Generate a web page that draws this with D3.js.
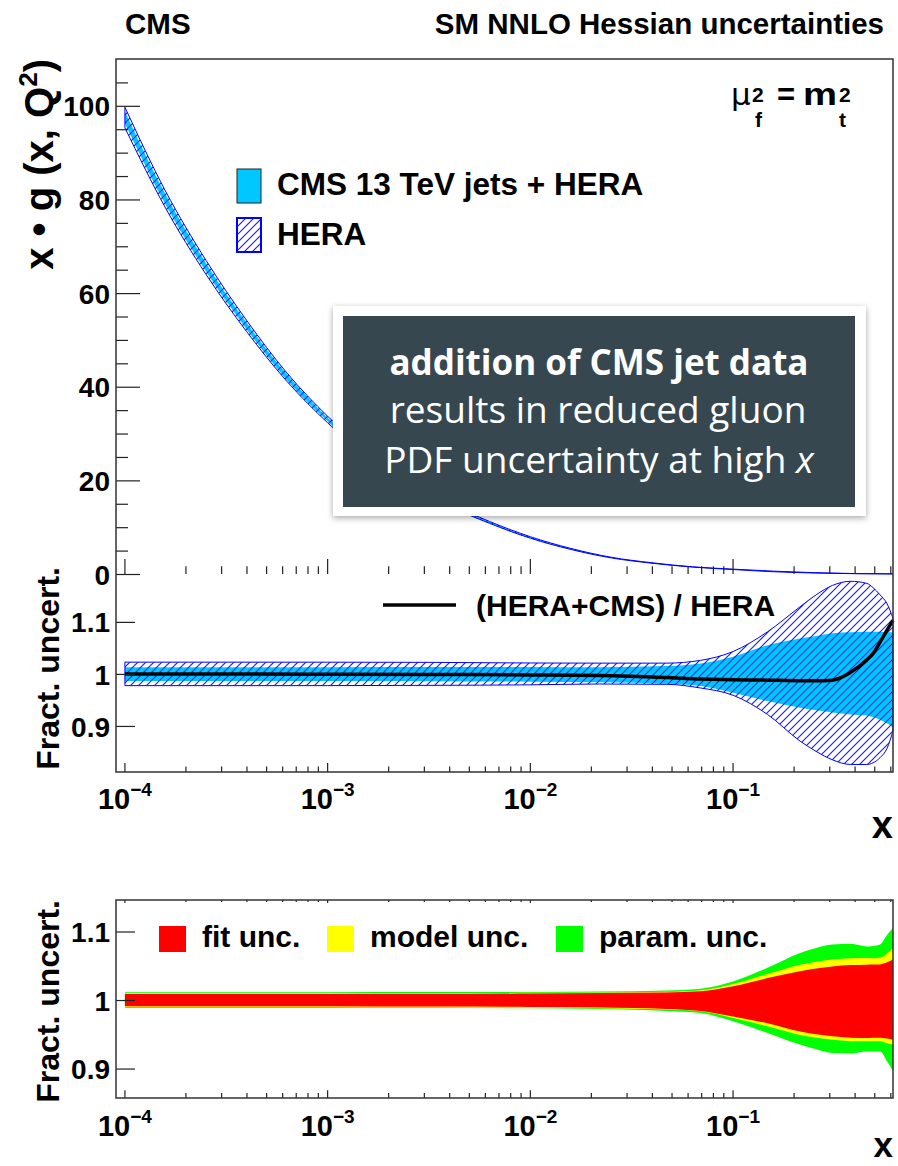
<!DOCTYPE html>
<html lang="en">
<head>
<meta charset="UTF-8">
<script src="https://d3js.org/d3.v7.min.js"></script>
<title>Gluon PDF uncertainties</title>
<style>
    body { margin: 0; background: #fff; }
    svg { display: block; font-family: "Liberation Sans", Arial, sans-serif; font-weight: bold; }
    .note text { font-family: "Open Sans", sans-serif; fill: #fff; }
</style>
</head>
<body>
<svg id="chart" width="898" height="1166"></svg>
<script>
// top panel: x*g(x,Q2) bands
const topX = [1e-4, 1.585e-4, 2.512e-4, 3.981e-4, 6.31e-4, 1e-3, 1.585e-3, 2.512e-3, 3.981e-3, 6.31e-3,
              0.01, 0.01585, 0.02512, 0.03981, 0.0631, 0.1, 0.1585, 0.2512, 0.3981, 0.615];
const heraGluonUp = [99.7, 81.8, 67.0, 54.2, 42.9, 33.7, 26.1, 19.9, 15.1, 11.2, 7.96, 5.46, 3.57, 2.40, 1.54, 1.04, 0.61, 0.29, 0.094, 0.022];
const heraGluonDn = [95.3, 78.2, 64.0, 51.8, 41.1, 32.3, 24.9, 19.1, 14.5, 10.8, 7.64, 5.24, 3.43, 2.30, 1.47, 0.96, 0.48, 0.21, 0.066, 0.018];
const cmsGluonUp  = [98.8, 81.1, 66.4, 53.7, 42.6, 33.4, 25.8, 19.8, 15.0, 11.1, 7.90, 5.42, 3.55, 2.38, 1.52, 1.03, 0.58, 0.27, 0.086, 0.022];
const cmsGluonDn  = [96.2, 78.9, 64.6, 52.3, 41.4, 32.6, 25.2, 19.2, 14.6, 10.85, 7.70, 5.28, 3.45, 2.32, 1.48, 0.97, 0.52, 0.23, 0.074, 0.018];

// ratio panels share one x grid
const ratioX = [1e-4, 3.16e-4, 1e-3, 3.16e-3, 0.01, 0.022, 0.047, 0.069, 0.1, 0.148, 0.214, 0.257, 0.309, 0.38, 0.457, 0.49, 0.531, 0.575, 0.615];
const heraUp = [1.0226, 1.0226, 1.0225, 1.0222, 1.021, 1.0207, 1.0207, 1.026, 1.043, 1.081, 1.129, 1.152, 1.170, 1.178, 1.174, 1.166, 1.152, 1.135, 1.107];
const heraDn = [0.9774, 0.9774, 0.9775, 0.978, 0.979, 0.9806, 0.980, 0.973, 0.959, 0.922, 0.871, 0.851, 0.835, 0.826, 0.826, 0.829, 0.839, 0.857, 0.89];
const cmsUp  = [1.013, 1.013, 1.013, 1.0132, 1.0135, 1.013, 1.015, 1.02, 1.033, 1.055, 1.068, 1.073, 1.078, 1.080, 1.081, 1.081, 1.081, 1.080, 1.080];
const cmsDn  = [0.9865, 0.9865, 0.9865, 0.986, 0.985, 0.984, 0.981, 0.977, 0.964, 0.948, 0.935, 0.930, 0.926, 0.922, 0.920, 0.917, 0.912, 0.905, 0.897];
const ratioLine = [1.0, 1.0, 0.9995, 0.999, 0.998, 0.997, 0.993, 0.990, 0.989, 0.988, 0.987, 0.987, 0.988, 1.003, 1.027, 1.039, 1.061, 1.084, 1.103];

const fitUp   = [1.0088, 1.0088, 1.0088, 1.009, 1.0095, 1.0102, 1.011, 1.0127, 1.020, 1.032, 1.042, 1.046, 1.049, 1.051, 1.0516, 1.052, 1.052, 1.055, 1.059];
const fitDn   = [0.991, 0.991, 0.991, 0.9905, 0.990, 0.989, 0.987, 0.984, 0.976, 0.966, 0.954, 0.950, 0.947, 0.945, 0.9445, 0.945, 0.945, 0.944, 0.942];
const modelUp = [1.010, 1.010, 1.010, 1.0102, 1.0105, 1.011, 1.012, 1.0143, 1.0234, 1.038, 1.0516, 1.056, 1.059, 1.061, 1.0613, 1.061, 1.062, 1.068, 1.076];
const modelDn = [0.9895, 0.9895, 0.9895, 0.989, 0.9885, 0.988, 0.986, 0.9835, 0.9737, 0.9616, 0.949, 0.945, 0.942, 0.940, 0.9397, 0.940, 0.940, 0.937, 0.935];
const paramUp = [1.0115, 1.0115, 1.0115, 1.0116, 1.0117, 1.0125, 1.014, 1.0165, 1.027, 1.047, 1.0686, 1.076, 1.081, 1.082, 1.078, 1.079, 1.081, 1.095, 1.105];
const paramDn = [0.9885, 0.9885, 0.9885, 0.9883, 0.988, 0.987, 0.984, 0.981, 0.969, 0.952, 0.935, 0.928, 0.9226, 0.922, 0.925, 0.925, 0.925, 0.9105, 0.896];

const decades = [1e-4, 1e-3, 1e-2, 1e-1];
const decadeExp = ["\u22124", "\u22123", "\u22122", "\u22121"];
const topYTicks = [0, 20, 40, 60, 80, 100];
const ratioYTicks = [0.9, 1, 1.1];

const svg = d3.select("#chart");
const L = 116, R = 893;

const x = d3.scaleLog().domain([Math.pow(10, -4.044), Math.pow(10, -0.211)]).range([L, R]);
const yTop = d3.scaleLinear().domain([0, 110]).range([574, 59]);
const yMid = d3.scaleLinear().domain([0.8115, 1.192]).range([772, 574]);
const yBot = d3.scaleLinear().domain([0.857, 1.146]).range([1098, 900]);

// hatch pattern
const defs = svg.append("defs");
defs.append("pattern")
    .attr("id", "hatch")
    .attr("patternUnits", "userSpaceOnUse")
    .attr("width", 8).attr("height", 8)
    .append("path")
    .attr("d", "M-1,1 l2,-2 M0,8 l8,-8 M7,9 l2,-2")
    .attr("stroke", "#1c1cff")
    .attr("stroke-width", 1.15);
const shadow = defs.append("filter").attr("id", "shadow")
    .attr("x", "-10%").attr("y", "-10%").attr("width", "120%").attr("height", "130%");
shadow.append("feDropShadow").attr("dx", 0).attr("dy", 2).attr("stdDeviation", 3)
    .attr("flood-color", "#000").attr("flood-opacity", 0.35);

function band(xs, up, dn, y) {
    return d3.area()
        .x((d, i) => x(xs[i]))
        .y0((d, i) => y(dn[i]))
        .y1((d, i) => y(up[i]))
        .curve(d3.curveMonotoneX)(xs);
}

function minorTicks() {
    const out = [];
    for (let e = -5; e <= 0; e++)
        for (let m = 2; m <= 9; m++) {
            const v = m * Math.pow(10, e);
            if (v > x.domain()[0] && v < x.domain()[1]) out.push(v);
        }
    return out;
}

function xTicks(yPos, major, minor, dir) {
    const g = svg.append("g").attr("stroke", "#222").attr("stroke-width", 1.2);
    g.selectAll("line.maj").data(decades).join("line")
        .attr("x1", d => x(d)).attr("x2", d => x(d))
        .attr("y1", yPos).attr("y2", yPos - dir * major);
    g.selectAll("line.min").data(minorTicks()).join("line")
        .attr("x1", d => x(d)).attr("x2", d => x(d))
        .attr("y1", yPos).attr("y2", yPos - dir * minor);
}

function xLabels(baseY) {
    svg.append("g").selectAll("text").data(decades).join("text")
        .attr("x", d => x(d)).attr("y", baseY)
        .attr("text-anchor", "middle")
        .attr("font-size", 29)
        .each(function (d, i) {
            const t = d3.select(this);
            t.append("tspan").text("10");
            t.append("tspan").attr("dy", -13).attr("font-size", 19).text(decadeExp[i]);
        });
}

function yAxis(y, ticks, major, fmt) {
    const ax = d3.axisLeft(y).tickValues(ticks).tickSize(-major).tickPadding(6).tickFormat(fmt);
    const g = svg.append("g").attr("transform", `translate(${L},0)`).call(ax);
    g.select(".domain").remove();
    g.selectAll("line").attr("stroke", "#222").attr("stroke-width", 1.2);
    g.selectAll("text").attr("font-size", 28).attr("font-family", "Liberation Sans, Arial, sans-serif")
        .attr("font-weight", "bold").attr("fill", "#000").attr("dy", "0.36em");
    return g;
}

// ---------- top panel ----------
svg.append("path").attr("d", band(topX, cmsGluonUp, cmsGluonDn, yTop)).attr("fill", "#00c8ff");
svg.append("path").attr("d", band(topX, heraGluonUp, heraGluonDn, yTop))
    .attr("fill", "url(#hatch)").attr("stroke", "#0000ff").attr("stroke-width", 1);

const minorY = d3.range(5, 110, 5).filter(v => v % 20 !== 0);
const gMinor = svg.append("g").attr("transform", `translate(${L},0)`)
    .call(d3.axisLeft(yTop).tickValues(minorY).tickSize(-12).tickFormat(""));
gMinor.select(".domain").remove();
gMinor.selectAll("line").attr("stroke", "#222").attr("stroke-width", 1.2);
yAxis(yTop, topYTicks, 24, d3.format("d"));
xTicks(574, 15, 7.7, 1);

svg.append("path").attr("d", `M${L},574 V59 H${R} V574`)
    .attr("fill", "none").attr("stroke", "#333").attr("stroke-width", 1.5);

svg.append("text")
    .attr("transform", "translate(53,59) rotate(-90)")
    .attr("text-anchor", "end").attr("font-size", 40)
    .call(t => {
        t.append("tspan").text("x \u2022 g (x, Q");
        t.append("tspan").attr("dy", -16).attr("font-size", 26).text("2");
        t.append("tspan").attr("dy", 16).text(")");
    });

// mu_f^2 = m_t^2
const mu = svg.append("g");
mu.append("text").attr("x", 731).attr("y", 105).attr("font-size", 31).attr("font-weight", "normal")
    .attr("font-family", "DejaVu Sans, sans-serif").text("\u03bc");
mu.append("text").attr("x", 752).attr("y", 102).attr("font-size", 21).text("2");
mu.append("text").attr("x", 755).attr("y", 127).attr("font-size", 21).text("f");
mu.append("text").attr("x", 777).attr("y", 105).attr("font-size", 31).text("=");
mu.append("text").attr("x", 803).attr("y", 105).attr("font-size", 32)
    .attr("textLength", 34).attr("lengthAdjust", "spacingAndGlyphs").text("m");
mu.append("text").attr("x", 839).attr("y", 102).attr("font-size", 21).text("2");
mu.append("text").attr("x", 839).attr("y", 127).attr("font-size", 21).text("t");

// top legend
svg.append("rect").attr("x", 237).attr("y", 169).attr("width", 24).attr("height", 34)
    .attr("fill", "#00c8ff").attr("stroke", "#222").attr("stroke-width", 1);
svg.append("rect").attr("x", 237).attr("y", 218).attr("width", 24).attr("height", 34)
    .attr("fill", "url(#hatch)").attr("stroke", "#0000ff").attr("stroke-width", 2);
svg.append("text").attr("x", 277).attr("y", 195).attr("font-size", 31.5).text("CMS 13 TeV jets + HERA");
svg.append("text").attr("x", 277).attr("y", 245).attr("font-size", 31.5).text("HERA");

// header
svg.append("text").attr("x", 125).attr("y", 34).attr("font-size", 29.5).text("CMS");
svg.append("text").attr("x", 884).attr("y", 34).attr("font-size", 29.5).attr("text-anchor", "end")
    .text("SM NNLO Hessian uncertainties");

// ---------- middle panel ----------
svg.append("path").attr("d", band(ratioX, cmsUp, cmsDn, yMid)).attr("fill", "#00c8ff");
svg.append("path").attr("d", band(ratioX, heraUp, heraDn, yMid))
    .attr("fill", "url(#hatch)").attr("stroke", "#0000ff").attr("stroke-width", 1);
svg.append("path")
    .attr("d", d3.line().x((d, i) => x(ratioX[i])).y(d => yMid(d)).curve(d3.curveMonotoneX)(ratioLine))
    .attr("fill", "none").attr("stroke", "#000").attr("stroke-width", 3.5);

yAxis(yMid, ratioYTicks, 19, d => d3.format("")(d));
xTicks(772, 9, 5.5, 1);
svg.append("path").attr("d", `M${L},574 V772 H${R} V574`)
    .attr("fill", "none").attr("stroke", "#333").attr("stroke-width", 1.5);
xLabels(809);
svg.append("text").attr("x", 893).attr("y", 838).attr("text-anchor", "end").attr("font-size", 38).text("x");
svg.append("text")
    .attr("transform", "translate(59,567) rotate(-90)")
    .attr("text-anchor", "end").attr("font-size", 32).text("Fract. uncert.");

svg.append("line").attr("x1", 383).attr("x2", 456).attr("y1", 605).attr("y2", 605)
    .attr("stroke", "#000").attr("stroke-width", 3.5);
svg.append("text").attr("x", 476).attr("y", 616).attr("font-size", 30).text("(HERA+CMS) / HERA");

// ---------- bottom panel ----------
svg.append("path").attr("d", band(ratioX, paramUp, paramDn, yBot)).attr("fill", "#00ff00");
svg.append("path").attr("d", band(ratioX, modelUp, modelDn, yBot)).attr("fill", "#ffff00");
svg.append("path").attr("d", band(ratioX, fitUp, fitDn, yBot)).attr("fill", "#ff0000");

yAxis(yBot, ratioYTicks, 19, d => d3.format("")(d));
xTicks(1098, 7.7, 5, 1);
xTicks(900, 3, 2, -1);
svg.append("rect").attr("x", L).attr("y", 900).attr("width", R - L).attr("height", 198)
    .attr("fill", "none").attr("stroke", "#333").attr("stroke-width", 1.5);
xLabels(1136);
svg.append("text").attr("x", 893).attr("y", 1157).attr("text-anchor", "end").attr("font-size", 35).text("x");
svg.append("text")
    .attr("transform", "translate(59,900) rotate(-90)")
    .attr("text-anchor", "end").attr("font-size", 32).text("Fract. uncert.");

const botLegend = [
    { label: "fit unc.", color: "#ff0000", x: 159 },
    { label: "model unc.", color: "#ffff00", x: 327 },
    { label: "param. unc.", color: "#00ff00", x: 556 }
];
botLegend.forEach(d => {
    svg.append("rect").attr("x", d.x).attr("y", 926).attr("width", 27).attr("height", 26).attr("fill", d.color);
    svg.append("text").attr("x", d.x + 43).attr("y", 947).attr("font-size", 30).text(d.label);
});

// ---------- annotation box ----------
const note = svg.append("g").attr("class", "note");
note.append("rect").attr("x", 333).attr("y", 306).attr("width", 533).attr("height", 210)
    .attr("fill", "#fff").attr("filter", "url(#shadow)");
note.append("rect").attr("x", 343).attr("y", 316).attr("width", 512).attr("height", 191)
    .attr("fill", "#37474f");
note.append("text").attr("x", 599).attr("y", 375).attr("text-anchor", "middle")
    .attr("font-size", 35).attr("font-weight", "bold").text("addition of CMS jet data");
note.append("text").attr("x", 598).attr("y", 423).attr("text-anchor", "middle")
    .attr("font-size", 37).attr("font-weight", "normal").text("results in reduced gluon");
note.append("text").attr("x", 599).attr("y", 473).attr("text-anchor", "middle")
    .attr("font-size", 37).attr("font-weight", "normal")
    .call(t => {
        t.append("tspan").text("PDF uncertainty at high ");
        t.append("tspan").attr("font-style", "italic").text("x");
    });
</script>
</body>
</html>
